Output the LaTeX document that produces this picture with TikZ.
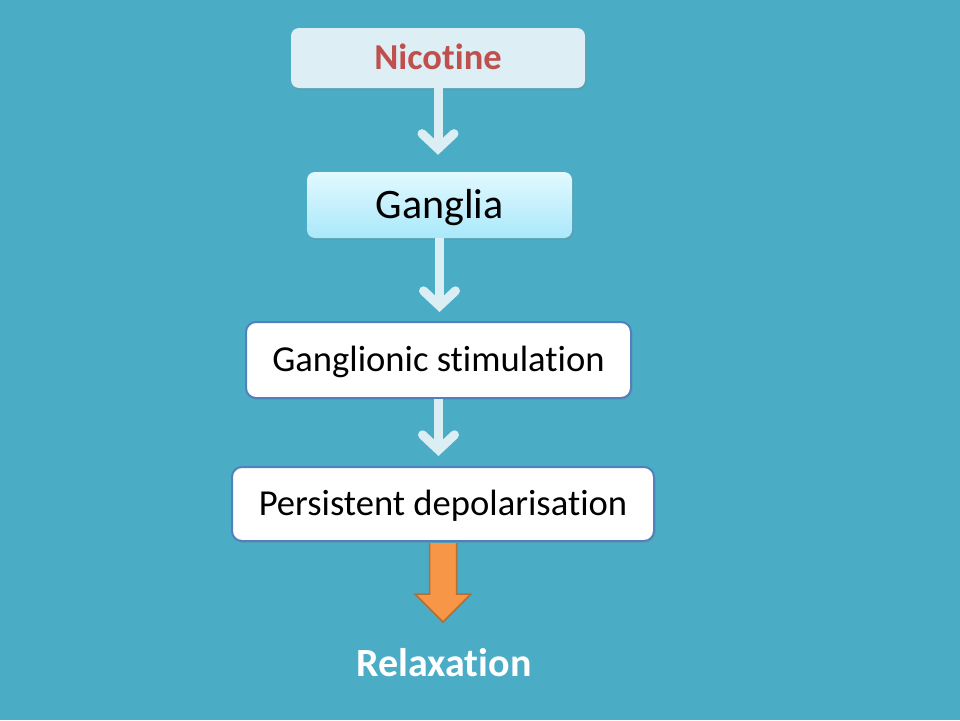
\documentclass[tikz,border=0pt]{standalone}
\usepackage{fontspec}
\setmainfont{Carlito}[Ligatures={NoCommon}]
\usetikzlibrary{shadows,arrows.meta}
\definecolor{bg}{HTML}{4BACC6}
\definecolor{nicfill}{HTML}{DDEEF4}
\definecolor{nicred}{HTML}{C0504D}
\definecolor{gtop}{HTML}{E2F9FF}
\definecolor{gbot}{HTML}{A9E8FA}
\definecolor{boxline}{HTML}{4F81BD}
\definecolor{warr}{HTML}{DAEEF3}
\definecolor{ofill}{HTML}{F79646}
\definecolor{oline}{HTML}{B66D31}
\tikzset{
  boxshadow/.style={drop shadow={opacity=0.25,shadow xshift=1.5pt,shadow yshift=-2pt}},
  nicbox/.style={rounded corners=8pt,fill=nicfill,minimum width=294pt,minimum height=60pt,boxshadow,
     text=nicred,font=\fontsize{36.5}{42}\selectfont\bfseries,text height=23.5pt,text depth=0pt},
  ganbox/.style={rounded corners=8pt,top color=gtop,bottom color=gbot,minimum width=265pt,minimum height=66pt,boxshadow,
     font=\fontsize{42}{48}\selectfont,text height=27pt,text depth=0pt},
  whitebox/.style={rounded corners=10pt,fill=white,draw=boxline,line width=2pt,boxshadow,
     font=\fontsize{36.6}{42}\selectfont,text height=23.6pt,text depth=0pt},
  warrow/.style={draw=warr,line width=9pt,-{Straight Barb[length=15pt,width=32pt,line cap=round,line join=miter]}},
  oarrow/.style={fill=ofill,draw=oline,line width=1.5pt,line join=miter},
  relax/.style={text=white,font=\fontsize{40}{46}\selectfont\bfseries,text height=25.8pt,text depth=0pt}
}
\begin{document}
\begin{tikzpicture}[x=1pt,y=-1pt]
\fill[bg] (0,0) rectangle (960,720);
\useasboundingbox (0,0) rectangle (960,720);
\node[nicbox] (nic) at (438,58) {Nicotine};
\node[ganbox] (gan) at (439.5,205) {Ganglia};
\node[whitebox,minimum width=385pt,minimum height=76pt] (stim) at (438.5,360) {Ganglionic stimulation};
\node[whitebox,minimum width=422pt,minimum height=74pt] (pers) at (443,504) {Persistent depolarisation};
\node[relax] (rel) at (444,663.5) {Relaxation};
\draw[warrow,shorten >=17pt] (nic.south) -- (nic.south |- gan.north);
\draw[warrow,shorten >=9pt] (gan.south) -- (gan.south |- stim.north);
\draw[warrow,shorten >=10pt] (stim.south) -- (stim.south |- pers.north);
\filldraw[oarrow] (pers.south) ++(-13.5,1) -- ++(0,51) -- ++(-14.5,0) -- ++(28,28) -- ++(28,-28) -- ++(-14.5,0) -- ++(0,-51);
\end{tikzpicture}
\end{document}
